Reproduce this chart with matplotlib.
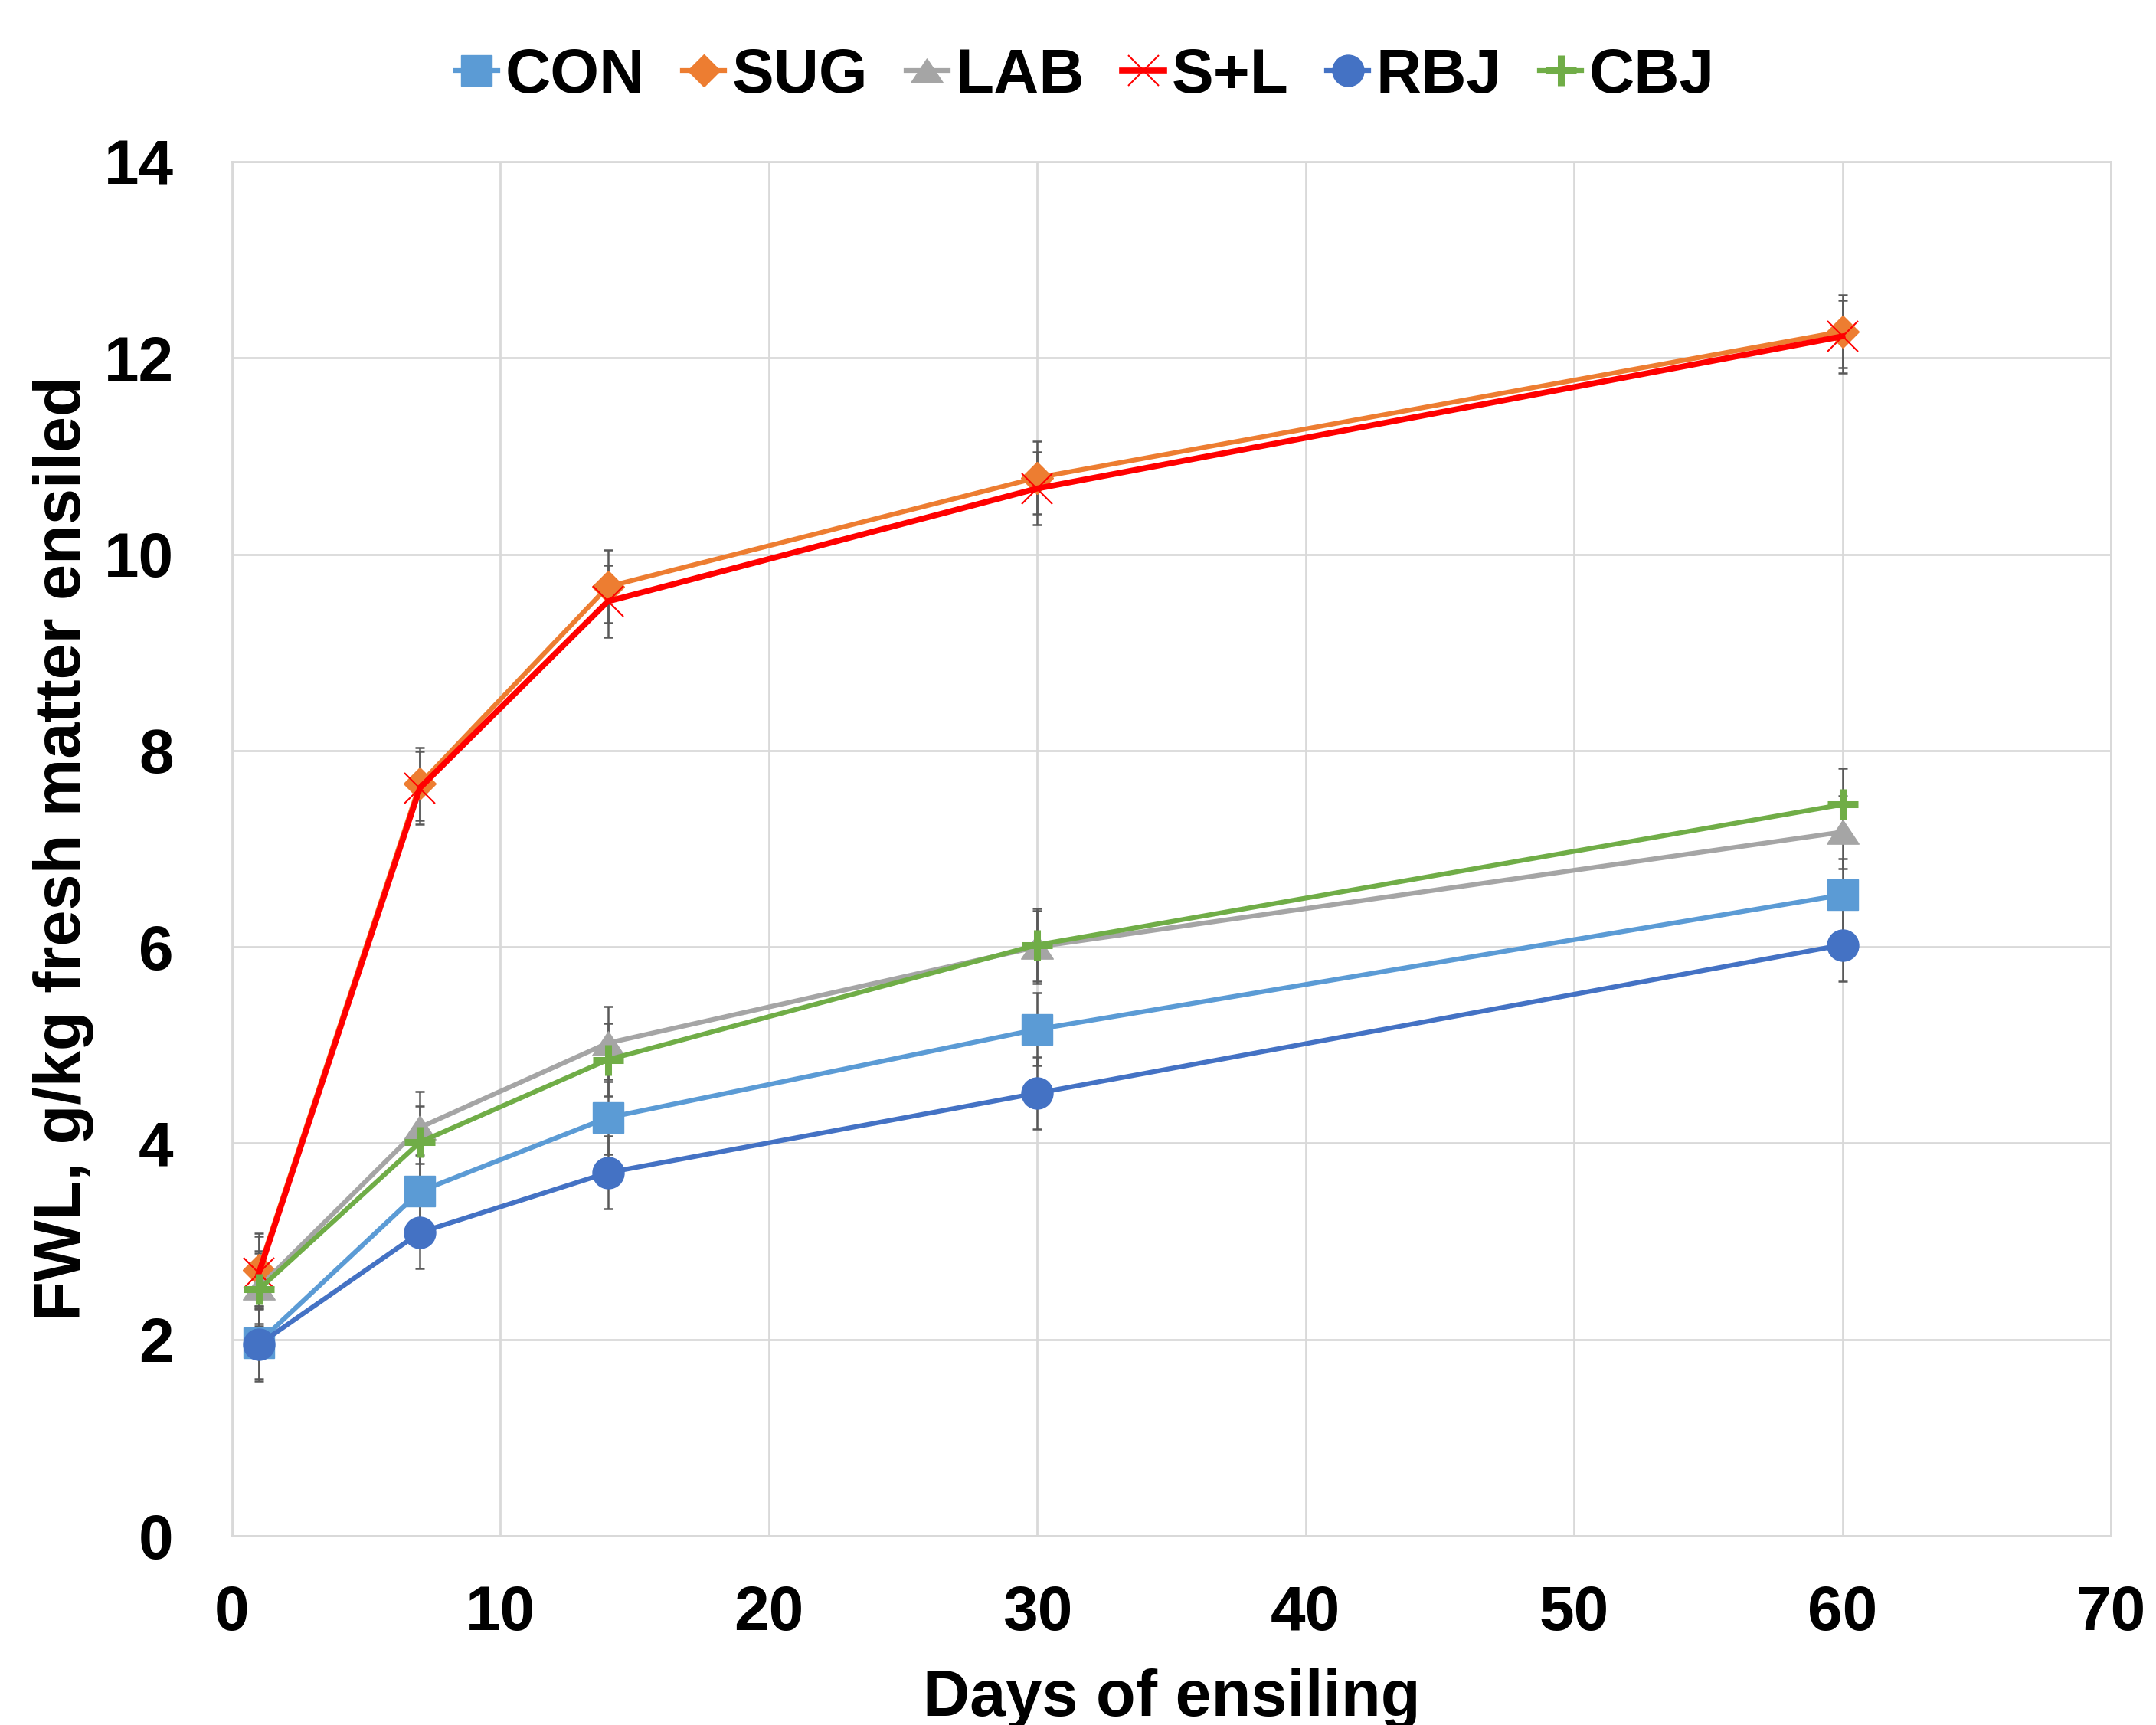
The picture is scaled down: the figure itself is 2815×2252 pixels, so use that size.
"""
   Forage weight loss during ensiling, six treatments
"""

import matplotlib
matplotlib.use("Agg")
import matplotlib.pyplot as plt
from matplotlib.path import Path

plt.rcParams["font.family"] = ["Liberation Sans", "DejaVu Sans"]
plt.rcParams["font.weight"] = "bold"

#      Data
days = [1, 7, 14, 30, 60]
con = [1.97, 3.51, 4.26, 5.16, 6.53]
sug = [2.71, 7.66, 9.67, 10.78, 12.27]
lab = [2.53, 4.16, 5.02, 6.00, 7.17]
s_l = [2.68, 7.62, 9.52, 10.67, 12.22]
rbj = [1.95, 3.09, 3.70, 4.51, 6.02]
cbj = [2.51, 4.01, 4.85, 6.02, 7.45]
sem = [0.37, 0.37, 0.37, 0.37, 0.37]

names = ["CON", "SUG", "LAB", "S+L", "RBJ", "CBJ"]
series = [con, sug, lab, s_l, rbj, cbj]

#      Squashed triangle like the Excel marker
tri = Path([(-1, -0.75), (1, -0.75), (0, 0.75), (-1, -0.75)],
           [Path.MOVETO, Path.LINETO, Path.LINETO, Path.CLOSEPOLY])

styles = [
    dict(color="#5B9BD5", marker="s", ms=29.5, mew=1, lw=4.5),
    dict(color="#ED7D31", marker="D", ms=21.2, mew=1, lw=4.5),
    dict(color="#A5A5A5", marker=tri, ms=30, mew=1, lw=4.5),
    dict(color="#FF0000", marker="x", ms=29.5, mew=1.5, lw=5.5),
    dict(color="#4472C4", marker="o", ms=29.5, mew=1, lw=4.5),
    dict(color="#70AD47", marker="+", ms=29, mew=6.5, lw=4.5),
]

fig = plt.figure(figsize=(28.15, 22.52), dpi=100)
ax = fig.add_axes([303 / 2815, 1 - 2005 / 2252, (2756 - 303) / 2815, (2005 - 211) / 2252])

#      Error bars underneath, then lines with markers
for vals in series:
    ax.errorbar(days, vals, yerr=sem, fmt="none", ecolor="#595959",
                elinewidth=1.8, capsize=4.5, capthick=1.8, zorder=2)

for name, vals, st in zip(names, series, styles):
    ax.plot(days, vals, label=name, color=st["color"], lw=st["lw"],
            marker=st["marker"], markersize=st["ms"],
            markerfacecolor=st["color"], markeredgecolor=st["color"],
            markeredgewidth=st["mew"], zorder=3)

ax.set_xlim(0, 70)
ax.set_ylim(0, 14)
ax.set_xticks(range(0, 71, 10))
ax.set_yticks(range(0, 15, 2))
ax.tick_params(length=0, labelsize=59)
ax.tick_params(axis="y", pad=55)
ax.tick_params(axis="x", pad=46)
ax.grid(True, color="#D9D9D9", lw=2)
ax.set_axisbelow(True)
for sp in ax.spines.values():
    sp.set_color("#D9D9D9")
    sp.set_linewidth(2)

ax.set_xlabel("Days of ensiling", fontsize=61, fontweight="bold", labelpad=24)
ax.set_ylabel("FWL, g/kg fresh matter ensiled", fontsize=61, fontweight="bold", labelpad=9)

fig.legend(loc="center", bbox_to_anchor=(1417 / 2815, 1 - 100 / 2252), ncol=6,
           frameon=False, fontsize=59, handlelength=0.67, handletextpad=0.12,
           columnspacing=0.6, borderaxespad=0)

fig.savefig("out.png", dpi=100)
